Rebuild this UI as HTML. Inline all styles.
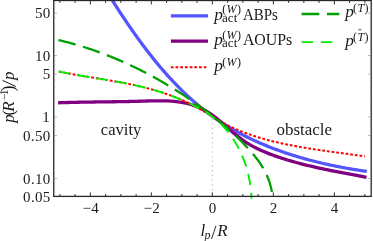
<!DOCTYPE html><html><head><meta charset="utf-8"><style>html,body{margin:0;padding:0;background:#fff}body{width:374px;height:241px;overflow:hidden;font-family:"Liberation Serif",serif}</style></head><body><svg width="374" height="241" viewBox="0 0 374 241" style="display:block;will-change:transform;font-family:'Liberation Serif',serif">
<rect width="374" height="241" fill="#fff"/>
<defs><clipPath id="c"><rect x="53.75" y="-2.00" width="317.45" height="200.60"/></clipPath></defs>
<line x1="212.35" y1="196.40" x2="212.35" y2="117" stroke="#b0b0b0" stroke-width="1" stroke-dasharray="1.2 3.5" stroke-dashoffset="-1.5"/>
<g clip-path="url(#c)" fill="none" stroke-linecap="square" stroke-linejoin="round">
<path d="M106.38 -9.08 L107.45 -7.36 L108.53 -5.65 L109.61 -3.93 L110.69 -2.21 L111.78 -0.49 L112.87 1.23 L113.97 2.95 L115.07 4.67 L116.18 6.39 L117.30 8.12 L118.42 9.84 L119.54 11.57 L120.67 13.29 L121.81 15.01 L122.95 16.73 L124.09 18.45 L125.25 20.17 L126.40 21.89 L127.57 23.61 L128.74 25.32 L129.92 27.03 L131.10 28.75 L132.29 30.45 L133.48 32.16 L134.68 33.86 L135.89 35.56 L137.10 37.25 L138.32 38.95 L139.55 40.63 L140.78 42.32 L142.03 44.00 L143.27 45.67 L144.53 47.34 L145.79 49.01 L147.06 50.67 L148.33 52.32 L149.62 53.97 L150.91 55.61 L152.20 57.25 L153.51 58.88 L154.82 60.51 L156.14 62.12 L157.47 63.74 L158.80 65.34 L160.15 66.94 L161.50 68.52 L162.86 70.11 L164.22 71.68 L165.60 73.24 L166.98 74.80 L168.37 76.35 L169.77 77.89 L171.18 79.42 L172.60 80.94 L174.02 82.45 L175.46 83.95 L176.90 85.44 L178.35 86.92 L179.81 88.39 L181.28 89.85 L182.76 91.30 L184.25 92.74 L185.74 94.16 L187.25 95.58 L188.77 96.98 L190.29 98.38 L191.82 99.75 L193.37 101.12 L194.92 102.48 L196.48 103.82 L198.06 105.15 L199.64 106.46 L201.23 107.76 L202.83 109.05 L204.44 110.33 L206.07 111.59 L207.70 112.83 L209.34 114.06 L210.99 115.28 L212.66 116.48 L214.33 117.67 L216.01 118.84 L217.71 119.99 L219.41 121.13 L221.13 122.26 L222.85 123.37 L224.59 124.47 L226.33 125.55 L228.08 126.62 L229.84 127.67 L231.61 128.71 L233.39 129.74 L235.18 130.75 L236.98 131.75 L238.78 132.73 L240.59 133.70 L242.42 134.66 L244.24 135.60 L246.08 136.53 L247.93 137.44 L249.78 138.35 L251.64 139.23 L253.51 140.11 L255.38 140.97 L257.26 141.82 L259.15 142.66 L261.04 143.48 L262.95 144.30 L264.85 145.10 L266.77 145.88 L268.69 146.66 L270.61 147.42 L272.55 148.17 L274.48 148.91 L276.43 149.63 L278.37 150.35 L280.33 151.05 L282.29 151.74 L284.25 152.42 L286.22 153.09 L288.19 153.74 L290.17 154.39 L292.15 155.02 L294.14 155.64 L296.13 156.25 L298.12 156.85 L300.12 157.44 L302.12 158.02 L304.12 158.59 L306.13 159.15 L308.14 159.70 L310.16 160.23 L312.17 160.76 L314.19 161.28 L316.22 161.78 L318.24 162.28 L320.27 162.76 L322.30 163.24 L324.33 163.71 L326.36 164.16 L328.40 164.61 L330.44 165.05 L332.47 165.48 L334.51 165.90 L336.55 166.31 L338.59 166.71 L340.64 167.10 L342.68 167.49 L344.72 167.86 L346.77 168.23 L348.81 168.59 L350.86 168.94 L352.90 169.28 L354.95 169.61 L356.99 169.93 L359.03 170.25 L361.08 170.56 L363.12 170.86 L365.16 171.15" stroke="#5555ff" stroke-width="3.25"/>
<path d="M59.78 102.70 L61.85 102.64 L63.92 102.58 L65.98 102.53 L68.04 102.48 L70.09 102.43 L72.14 102.38 L74.18 102.34 L76.22 102.30 L78.26 102.26 L80.29 102.22 L82.32 102.18 L84.35 102.15 L86.37 102.12 L88.39 102.09 L90.41 102.06 L92.43 102.03 L94.45 102.00 L96.46 101.97 L98.48 101.95 L100.49 101.92 L102.50 101.89 L104.52 101.87 L106.53 101.84 L108.54 101.81 L110.56 101.79 L112.57 101.76 L114.59 101.73 L116.61 101.70 L118.62 101.67 L120.65 101.64 L122.67 101.60 L124.69 101.57 L126.72 101.53 L128.75 101.49 L130.79 101.45 L132.83 101.41 L134.87 101.36 L136.91 101.31 L138.96 101.26 L141.02 101.20 L143.08 101.15 L145.14 101.09 L147.21 101.02 L149.28 100.97 L151.36 100.91 L153.43 100.86 L155.51 100.83 L157.58 100.80 L159.65 100.79 L161.72 100.80 L163.79 100.82 L165.85 100.88 L167.90 100.95 L169.95 101.05 L171.99 101.19 L174.03 101.35 L176.05 101.56 L178.06 101.80 L180.06 102.08 L182.05 102.41 L184.03 102.78 L185.99 103.20 L187.93 103.67 L189.86 104.19 L191.78 104.76 L193.67 105.39 L195.54 106.06 L197.40 106.79 L199.23 107.57 L201.04 108.40 L202.83 109.28 L204.60 110.22 L206.34 111.20 L208.05 112.24 L209.74 113.32 L211.40 114.46 L213.04 115.63 L214.67 116.84 L216.27 118.08 L217.86 119.35 L219.43 120.65 L220.99 121.96 L222.54 123.29 L224.09 124.64 L225.63 125.99 L227.17 127.35 L228.70 128.70 L230.25 130.06 L231.79 131.40 L233.35 132.74 L234.91 134.06 L236.49 135.35 L238.08 136.63 L239.69 137.88 L241.32 139.09 L242.98 140.27 L244.65 141.42 L246.35 142.52 L248.07 143.59 L249.82 144.63 L251.58 145.63 L253.36 146.60 L255.16 147.54 L256.97 148.45 L258.80 149.33 L260.65 150.18 L262.51 151.01 L264.38 151.81 L266.26 152.59 L268.15 153.35 L270.05 154.09 L271.97 154.80 L273.88 155.50 L275.81 156.18 L277.74 156.85 L279.67 157.50 L281.61 158.13 L283.55 158.76 L285.50 159.36 L287.45 159.96 L289.40 160.54 L291.35 161.11 L293.31 161.67 L295.27 162.22 L297.24 162.76 L299.20 163.28 L301.17 163.80 L303.14 164.30 L305.12 164.80 L307.09 165.28 L309.07 165.76 L311.05 166.23 L313.03 166.69 L315.02 167.14 L317.01 167.59 L318.99 168.02 L320.98 168.46 L322.97 168.88 L324.96 169.30 L326.96 169.71 L328.95 170.12 L330.95 170.52 L332.94 170.92 L334.94 171.31 L336.94 171.70 L338.93 172.09 L340.93 172.47 L342.93 172.85 L344.93 173.23 L346.93 173.61 L348.92 173.98 L350.92 174.36 L352.92 174.73 L354.92 175.10 L356.91 175.47 L358.91 175.84 L360.91 176.22 L362.90 176.59 L364.89 176.96" stroke="#800080" stroke-width="3.3"/>
<path d="M58.81 71.49 L60.75 71.90 L62.70 72.29 L64.66 72.68 L66.62 73.07 L68.58 73.44 L70.55 73.81 L72.52 74.17 L74.49 74.53 L76.47 74.88 L78.45 75.23 L80.44 75.57 L82.43 75.91 L84.42 76.24 L86.41 76.58 L88.40 76.91 L90.40 77.24 L92.39 77.57 L94.39 77.90 L96.39 78.22 L98.39 78.55 L100.39 78.88 L102.40 79.21 L104.40 79.54 L106.40 79.88 L108.40 80.22 L110.41 80.56 L112.41 80.90 L114.41 81.25 L116.41 81.61 L118.40 81.97 L120.40 82.34 L122.40 82.71 L124.39 83.09 L126.38 83.48 L128.37 83.87 L130.35 84.28 L132.34 84.69 L134.32 85.11 L136.30 85.55 L138.27 85.99 L140.24 86.44 L142.21 86.91 L144.17 87.39 L146.13 87.88 L148.08 88.38 L150.03 88.90 L151.97 89.43 L153.91 89.98 L155.84 90.54 L157.77 91.12 L159.69 91.71 L161.61 92.32 L163.52 92.95 L165.42 93.59 L167.32 94.25 L169.20 94.93 L171.09 95.63 L172.96 96.34 L174.83 97.07 L176.69 97.82 L178.55 98.58 L180.40 99.36 L182.24 100.16 L184.07 100.98 L185.89 101.81 L187.71 102.66 L189.51 103.53 L191.31 104.42 L193.10 105.33 L194.88 106.25 L196.65 107.19 L198.42 108.15 L200.17 109.13 L201.92 110.12 L203.65 111.13 L205.38 112.16 L207.10 113.21 L208.80 114.28 L210.50 115.36 L212.20 116.45 L213.90 117.52 L215.61 118.59 L217.33 119.63 L219.06 120.65 L220.81 121.64 L222.56 122.62 L224.33 123.56 L226.11 124.49 L227.90 125.39 L229.70 126.28 L231.51 127.14 L233.33 127.98 L235.16 128.79 L237.00 129.59 L238.85 130.37 L240.71 131.13 L242.58 131.87 L244.45 132.59 L246.33 133.30 L248.22 133.98 L250.12 134.65 L252.03 135.30 L253.94 135.93 L255.86 136.55 L257.78 137.15 L259.71 137.74 L261.64 138.31 L263.58 138.87 L265.53 139.41 L267.47 139.94 L269.43 140.45 L271.38 140.95 L273.34 141.44 L275.31 141.91 L277.27 142.38 L279.24 142.83 L281.21 143.27 L283.18 143.70 L285.16 144.12 L287.14 144.53 L289.11 144.92 L291.10 145.31 L293.08 145.69 L295.06 146.07 L297.05 146.43 L299.04 146.78 L301.02 147.13 L303.01 147.47 L305.01 147.80 L307.00 148.13 L308.99 148.45 L310.99 148.77 L312.98 149.08 L314.98 149.38 L316.98 149.68 L318.97 149.97 L320.97 150.27 L322.97 150.55 L324.97 150.84 L326.97 151.12 L328.97 151.40 L330.97 151.68 L332.97 151.95 L334.97 152.22 L336.96 152.50 L338.96 152.77 L340.96 153.04 L342.96 153.31 L344.96 153.59 L346.95 153.86 L348.95 154.13 L350.95 154.41 L352.94 154.69 L354.93 154.97 L356.93 155.25 L358.92 155.54 L360.91 155.82 L362.90 156.12 L364.88 156.41" stroke="#ff0000" stroke-width="2" stroke-dasharray="2.8 1.9" stroke-linecap="butt"/>
<path d="M58.44 40.05 L60.20 40.47 L61.96 40.90 L63.71 41.34 L65.46 41.78 L67.21 42.23 L68.95 42.70 L70.69 43.17 L72.42 43.65 L74.15 44.13 L75.88 44.63 L77.61 45.13 L79.33 45.64 L81.04 46.16 L82.76 46.69 L84.47 47.23 L86.17 47.77 L87.87 48.33 L89.57 48.89 L91.27 49.46 L92.96 50.03 L94.65 50.62 L96.33 51.21 L98.01 51.81 L99.69 52.42 L101.37 53.04 L103.04 53.66 L104.70 54.29 L106.37 54.93 L108.03 55.58 L109.68 56.24 L111.33 56.90 L112.98 57.57 L114.63 58.25 L116.27 58.93 L117.91 59.63 L119.54 60.33 L121.17 61.04 L122.80 61.75 L124.43 62.47 L126.05 63.20 L127.66 63.94 L129.28 64.69 L130.89 65.44 L132.50 66.20 L134.10 66.97 L135.70 67.74 L137.29 68.52 L138.89 69.31 L140.48 70.10 L142.06 70.91 L143.64 71.72 L145.22 72.53 L146.80 73.36 L148.37 74.19 L149.94 75.02 L151.50 75.87 L153.06 76.72 L154.62 77.57 L156.17 78.44 L157.72 79.31 L159.27 80.19 L160.81 81.07 L162.36 81.96 L163.89 82.86 L165.42 83.76 L166.95 84.67 L168.48 85.59 L170.00 86.51 L171.52 87.44 L173.04 88.38 L174.55 89.32 L176.06 90.27 L177.57 91.22 L179.07 92.18 L180.57 93.15 L182.06 94.13 L183.55 95.11 L185.04 96.09 L186.53 97.08 L188.01 98.08 L189.49 99.09 L190.96 100.10 L192.43 101.11 L193.90 102.13 L195.37 103.16 L196.83 104.19 L198.28 105.23 L199.74 106.28 L201.19 107.33 L202.63 108.39 L204.08 109.45 L205.51 110.52 L206.95 111.60 L208.37 112.68 L209.80 113.77 L211.21 114.87 L212.63 115.97 L214.03 117.08 L215.44 118.19 L216.83 119.31 L218.22 120.44 L219.61 121.58 L220.98 122.72 L222.35 123.87 L223.72 125.03 L225.08 126.19 L226.43 127.37 L227.77 128.55 L229.10 129.73 L230.43 130.93 L231.75 132.13 L233.06 133.34 L234.37 134.56 L235.66 135.78 L236.95 137.01 L238.23 138.26 L239.50 139.50 L240.76 140.76 L242.01 142.03 L243.25 143.30 L244.49 144.58 L245.71 145.87 L246.92 147.17 L248.12 148.48 L249.32 149.80 L250.50 151.12 L251.66 152.46 L252.81 153.80 L253.95 155.16 L255.06 156.54 L256.16 157.92 L257.23 159.32 L258.28 160.73 L259.30 162.17 L260.30 163.61 L261.27 165.08 L262.20 166.56 L263.11 168.06 L263.98 169.59 L264.81 171.13 L265.61 172.69 L266.37 174.28 L267.09 175.89 L267.78 177.52 L268.42 179.17 L269.02 180.84 L269.59 182.53 L270.11 184.24 L270.59 185.97 L271.04 187.72 L271.44 189.49 L271.80 191.28 L272.12 193.08 L272.40 194.90 L272.64 196.74 L272.83 198.59 L272.99 200.46 L273.10 202.35 L273.16 204.25" stroke="#00a000" stroke-width="2.3" stroke-dasharray="17.7 7.7" stroke-linecap="butt"/>
<path d="M58.70 71.49 L60.20 71.78 L61.70 72.09 L63.20 72.39 L64.70 72.69 L66.20 72.99 L67.70 73.27 L69.20 73.56 L70.70 73.84 L72.20 74.11 L73.70 74.39 L75.20 74.65 L76.70 74.92 L78.20 75.18 L79.70 75.44 L81.20 75.70 L82.70 75.95 L84.20 76.21 L85.70 76.46 L87.20 76.71 L88.70 76.96 L90.20 77.21 L91.70 77.45 L93.20 77.70 L94.70 77.95 L96.20 78.19 L97.70 78.44 L99.20 78.68 L100.70 78.93 L102.20 79.18 L103.70 79.43 L105.20 79.68 L106.70 79.93 L108.20 80.18 L109.70 80.44 L111.20 80.70 L112.70 80.95 L114.20 81.22 L115.70 81.48 L117.20 81.75 L118.70 82.02 L120.20 82.30 L121.70 82.58 L123.20 82.86 L124.70 83.15 L126.20 83.44 L127.70 83.74 L129.20 84.04 L130.70 84.35 L132.20 84.66 L133.70 84.98 L135.20 85.31 L136.70 85.64 L138.20 85.97 L139.70 86.32 L141.20 86.67 L142.70 87.03 L144.20 87.40 L145.70 87.77 L147.20 88.16 L148.70 88.55 L150.20 88.95 L151.70 89.36 L153.20 89.78 L154.70 90.21 L156.20 90.65 L157.70 91.10 L159.20 91.56 L160.70 92.03 L162.20 92.52 L163.70 93.01 L165.20 93.52 L166.70 94.04 L168.20 94.57 L169.70 95.12 L171.20 95.67 L172.70 96.24 L174.20 96.82 L175.70 97.42 L177.20 98.03 L178.70 98.65 L180.20 99.28 L181.70 99.93 L183.20 100.59 L184.70 101.27 L186.20 101.93 L187.70 102.59 L189.20 103.26 L190.70 103.95 L192.20 104.65 L193.70 105.37 L195.20 106.10 L196.70 106.85 L198.20 107.62 L199.70 108.42 L201.20 109.25 L202.70 110.10 L204.20 111.00 L206.59 112.53 L207.94 113.44 L209.27 114.37 L210.58 115.32 L211.88 116.29 L213.16 117.28 L214.42 118.29 L215.67 119.31 L216.89 120.36 L218.10 121.43 L219.29 122.52 L220.46 123.63 L221.61 124.76 L222.74 125.91 L223.85 127.09 L224.94 128.28 L226.01 129.50 L227.06 130.74 L228.08 131.99 L229.09 133.27 L230.07 134.57 L231.04 135.88 L231.98 137.21 L232.90 138.56 L233.79 139.92 L234.67 141.30 L235.53 142.70 L236.36 144.11 L237.17 145.54 L237.96 146.98 L238.73 148.43 L239.47 149.90 L240.20 151.38 L240.90 152.87 L241.58 154.38 L242.24 155.89 L242.87 157.42 L243.48 158.96 L244.07 160.50 L244.64 162.06 L245.19 163.62 L245.71 165.19 L246.21 166.77 L246.68 168.36 L247.14 169.95 L247.57 171.55 L247.98 173.16 L248.36 174.77 L248.72 176.38 L249.06 178.00 L249.38 179.62 L249.68 181.25 L249.95 182.87 L250.21 184.50 L250.44 186.13 L250.66 187.77 L250.85 189.40 L251.03 191.03 L251.18 192.66 L251.32 194.29 L251.44 195.91 L251.54 197.54 L251.62 199.16 L251.68 200.78 L251.73 202.39 L251.76 204.00" stroke="#00f000" stroke-width="1.9" stroke-dasharray="11.5 7.7" stroke-linecap="butt"/>
</g>
<rect x="53.75" y="0.50" width="317.45" height="195.90" fill="none" stroke="#262626" stroke-width="1.3"/>
<path d="M59.85 196.40 v-2.40 M59.85 0.50 v2.40 M75.10 196.40 v-2.40 M75.10 0.50 v2.40 M90.35 196.40 v-4.00 M90.35 0.50 v4.00 M105.60 196.40 v-2.40 M105.60 0.50 v2.40 M120.85 196.40 v-2.40 M120.85 0.50 v2.40 M136.10 196.40 v-2.40 M136.10 0.50 v2.40 M151.35 196.40 v-4.00 M151.35 0.50 v4.00 M166.60 196.40 v-2.40 M166.60 0.50 v2.40 M181.85 196.40 v-2.40 M181.85 0.50 v2.40 M197.10 196.40 v-2.40 M197.10 0.50 v2.40 M212.35 196.40 v-4.00 M212.35 0.50 v4.00 M227.60 196.40 v-2.40 M227.60 0.50 v2.40 M242.85 196.40 v-2.40 M242.85 0.50 v2.40 M258.10 196.40 v-2.40 M258.10 0.50 v2.40 M273.35 196.40 v-4.00 M273.35 0.50 v4.00 M288.60 196.40 v-2.40 M288.60 0.50 v2.40 M303.85 196.40 v-2.40 M303.85 0.50 v2.40 M319.10 196.40 v-2.40 M319.10 0.50 v2.40 M334.35 196.40 v-4.00 M334.35 0.50 v4.00 M349.60 196.40 v-2.40 M349.60 0.50 v2.40 M364.85 196.40 v-2.40 M364.85 0.50 v2.40" stroke="#333" stroke-width="1" fill="none"/>
<path d="M53.75 13.21 h3.2 M371.20 13.21 h-3.2 M53.75 55.50 h3.2 M371.20 55.50 h-3.2 M53.75 74.01 h3.2 M371.20 74.01 h-3.2 M53.75 117.00 h3.2 M371.20 117.00 h-3.2 M53.75 135.51 h3.2 M371.20 135.51 h-3.2 M53.75 178.50 h3.2 M371.20 178.50 h-3.2" stroke="#8a8a8a" stroke-width="0.6" fill="none"/>
<path d="M53.75 3.53 h1.9 M371.20 3.53 h-1.9 M53.75 7.64 h1.9 M371.20 7.64 h-1.9 M53.75 18.47 h1.9 M371.20 18.47 h-1.9 M53.75 26.16 h1.9 M371.20 26.16 h-1.9 M53.75 36.99 h1.9 M371.20 36.99 h-1.9 M53.75 58.31 h1.9 M371.20 58.31 h-1.9 M53.75 61.46 h1.9 M371.20 61.46 h-1.9 M53.75 65.03 h1.9 M371.20 65.03 h-1.9 M53.75 69.14 h1.9 M371.20 69.14 h-1.9 M53.75 79.97 h1.9 M371.20 79.97 h-1.9 M53.75 87.66 h1.9 M371.20 87.66 h-1.9 M53.75 98.49 h1.9 M371.20 98.49 h-1.9 M53.75 119.81 h1.9 M371.20 119.81 h-1.9 M53.75 122.96 h1.9 M371.20 122.96 h-1.9 M53.75 126.53 h1.9 M371.20 126.53 h-1.9 M53.75 130.64 h1.9 M371.20 130.64 h-1.9 M53.75 141.47 h1.9 M371.20 141.47 h-1.9 M53.75 149.16 h1.9 M371.20 149.16 h-1.9 M53.75 159.99 h1.9 M371.20 159.99 h-1.9 M53.75 181.31 h1.9 M371.20 181.31 h-1.9 M53.75 184.46 h1.9 M371.20 184.46 h-1.9 M53.75 188.03 h1.9 M371.20 188.03 h-1.9 M53.75 192.14 h1.9 M371.20 192.14 h-1.9" stroke="#aaa" stroke-width="0.5" fill="none"/>
<g font-size="15" letter-spacing="0.35" fill="#1a1a1a">
<text x="50.70" y="18.01" text-anchor="end">50</text>
<text x="50.70" y="60.50" text-anchor="end">10</text>
<text x="50.70" y="79.01" text-anchor="end">5</text>
<text x="50.00" y="122.00" text-anchor="end">1</text>
<text x="50.70" y="140.51" text-anchor="end">0.50</text>
<text x="50.70" y="183.50" text-anchor="end">0.10</text>
<text x="50.70" y="202.01" text-anchor="end">0.05</text>
<text x="90.75" y="212.9" text-anchor="middle">−4</text>
<text x="151.75" y="212.9" text-anchor="middle">−2</text>
<text x="212.75" y="212.9" text-anchor="middle">0</text>
<text x="273.75" y="212.9" text-anchor="middle">2</text>
<text x="334.75" y="212.9" text-anchor="middle">4</text>
</g>
<g fill="#1a1a1a" font-style="italic" font-size="17"><text x="200.5" y="236">l</text><text x="204.6" y="239" font-size="12">p</text><text x="210.9" y="238.9" font-size="19.5" font-style="normal">/</text><text x="217.2" y="236">R</text></g>
<g transform="translate(13.6,124) rotate(-90)" fill="#1a1a1a" font-size="17">
<line x1="37.5" y1="2.2" x2="43.6" y2="-11.0" stroke="#1a1a1a" stroke-width="1"/>
<text x="1.20" y="0.00" font-size="17.00" font-style="italic">p</text>
<text x="8.40" y="0.00" font-size="17.00">(</text>
<text x="12.30" y="0.00" font-size="17.00" font-style="italic">R</text>
<text x="24.00" y="-6.10" font-size="11.50">−</text>
<text x="28.80" y="-6.10" font-size="11.50">1</text>
<text x="32.40" y="0.30" font-size="18.00">)</text>
<text x="44.00" y="0.00" font-size="17.00" font-style="italic">p</text>
</g>
<text x="100.8" y="134.7" font-size="16.5" textLength="40.6" lengthAdjust="spacingAndGlyphs" fill="#1a1a1a">cavity</text>
<text x="276.5" y="134.7" font-size="16.5" textLength="55.6" lengthAdjust="spacingAndGlyphs" fill="#1a1a1a">obstacle</text>
<g fill="none">
<line x1="170.9" y1="15.9" x2="208" y2="15.9" stroke="#5555ff" stroke-width="3.25"/>
<line x1="170.9" y1="41.1" x2="208" y2="41.1" stroke="#800080" stroke-width="3.3"/>
<line x1="170.8" y1="67.3" x2="206.3" y2="67.3" stroke="#ff0000" stroke-width="2" stroke-dasharray="2.8 1.9"/>
<line x1="301.6" y1="14" x2="339.3" y2="14" stroke="#00a000" stroke-width="2.3" stroke-dasharray="17.7 7.7"/>
<line x1="301.6" y1="42.1" x2="339" y2="42.1" stroke="#00f000" stroke-width="1.9" stroke-dasharray="11.5 7.7"/>
</g>
<text x="214.30" y="20.10" font-size="17.30" fill="#1a1a1a" font-style="italic">p</text>
<text x="222.20" y="13.30" font-size="12" letter-spacing="0.4" fill="#1a1a1a">(<tspan font-style="italic">W</tspan>)</text>
<text x="222.10" y="22.10" font-size="13.00" fill="#1a1a1a">act</text>
<text x="242.90" y="20.10" font-size="16.00" fill="#1a1a1a" textLength="35.00" lengthAdjust="spacingAndGlyphs">ABPs</text>
<text x="214.30" y="45.30" font-size="17.30" fill="#1a1a1a" font-style="italic">p</text>
<text x="222.20" y="38.50" font-size="12" letter-spacing="0.4" fill="#1a1a1a">(<tspan font-style="italic">W</tspan>)</text>
<text x="222.10" y="47.30" font-size="13.00" fill="#1a1a1a">act</text>
<text x="242.90" y="45.30" font-size="16.00" fill="#1a1a1a" textLength="49.40" lengthAdjust="spacingAndGlyphs">AOUPs</text>
<text x="214.30" y="70.70" font-size="17.30" fill="#1a1a1a" font-style="italic">p</text>
<text x="222.20" y="66.00" font-size="12" letter-spacing="0.4" fill="#1a1a1a">(<tspan font-style="italic">W</tspan>)</text>
<text x="345.20" y="17.30" font-size="17.30" fill="#1a1a1a" font-style="italic">p</text>
<text x="353.10" y="12.30" font-size="12" letter-spacing="0.4" fill="#1a1a1a">(<tspan font-style="italic">T</tspan>)</text>
<text x="345.20" y="45.70" font-size="17.30" fill="#1a1a1a" font-style="italic">p</text>
<text x="353.10" y="40.70" font-size="12" letter-spacing="0.4" fill="#1a1a1a">(<tspan font-style="italic">T</tspan>)</text>
<line x1="358.4" y1="29.8" x2="361.4" y2="29.8" stroke="#1a1a1a" stroke-width="0.8"/>
</svg></body></html>
